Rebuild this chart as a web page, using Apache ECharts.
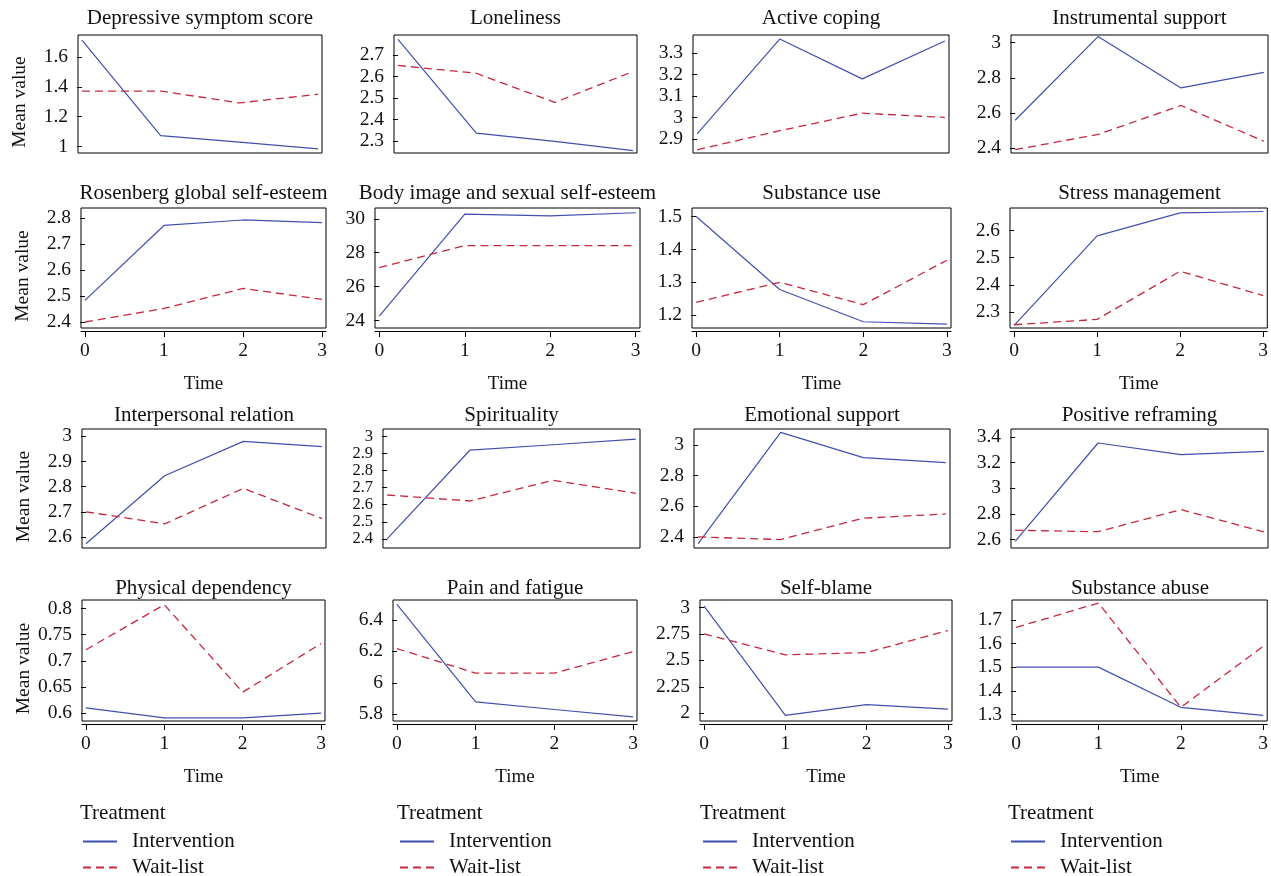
<!DOCTYPE html>
<html>
<head>
<meta charset="utf-8">
<script src="https://cdn.jsdelivr.net/npm/echarts@6/dist/echarts.min.js"></script>
<style>html,body{margin:0;padding:0;background:#fff}#c{width:1271px;height:876px}</style>
</head>
<body>
<div id="c"></div>
<script>
// ---------- data ----------
const times = [0, 1, 2, 3];
const panelTitles = [
  'Depressive symptom score', 'Loneliness', 'Active coping', 'Instrumental support',
  'Rosenberg global self-esteem', 'Body image and sexual self-esteem', 'Substance use', 'Stress management',
  'Interpersonal relation', 'Spirituality', 'Emotional support', 'Positive reframing',
  'Physical dependency', 'Pain and fatigue', 'Self-blame', 'Substance abuse'
];
const interventionValues = [
  [1.716, 1.073, 1.029, 0.984],
  [2.772, 2.338, 2.300, 2.257],
  [2.923, 3.366, 3.180, 3.357],
  [2.558, 3.035, 2.742, 2.831],
  [2.483, 2.771, 2.792, 2.782],
  [24.26, 30.28, 30.18, 30.36],
  [1.500, 1.278, 1.180, 1.173],
  [2.250, 2.581, 2.666, 2.671],
  [2.573, 2.843, 2.980, 2.959],
  [2.400, 2.920, 2.951, 2.984],
  [2.356, 3.081, 2.917, 2.884],
  [2.587, 3.353, 3.262, 3.288],
  [0.610, 0.591, 0.591, 0.600],
  [6.498, 5.878, 5.830, 5.783],
  [3.013, 1.980, 2.081, 2.039],
  [1.500, 1.500, 1.330, 1.296]
];
const waitlistValues = [
  [1.373, 1.373, 1.293, 1.351],
  [2.651, 2.615, 2.480, 2.623],
  [2.849, 2.938, 3.020, 3.000],
  [2.390, 2.477, 2.642, 2.438],
  [2.400, 2.452, 2.529, 2.487],
  [27.12, 28.42, 28.42, 28.42],
  [1.239, 1.300, 1.232, 1.367],
  [2.252, 2.272, 2.450, 2.360],
  [2.700, 2.652, 2.793, 2.673],
  [2.657, 2.622, 2.743, 2.667],
  [2.400, 2.383, 2.522, 2.550],
  [2.673, 2.662, 2.834, 2.660],
  [0.721, 0.807, 0.640, 0.733],
  [6.217, 6.061, 6.061, 6.198],
  [2.750, 2.552, 2.574, 2.782],
  [1.668, 1.771, 1.330, 1.588]
];
const yTickValues = [
  [1, 1.2, 1.4, 1.6],
  [2.3, 2.4, 2.5, 2.6, 2.7],
  [2.9, 3, 3.1, 3.2, 3.3],
  [2.4, 2.6, 2.8, 3],
  [2.4, 2.5, 2.6, 2.7, 2.8],
  [24, 26, 28, 30],
  [1.2, 1.3, 1.4, 1.5],
  [2.3, 2.4, 2.5, 2.6],
  [2.6, 2.7, 2.8, 2.9, 3],
  [2.4, 2.5, 2.6, 2.7, 2.8, 2.9, 3],
  [2.4, 2.6, 2.8, 3],
  [2.6, 2.8, 3, 3.2, 3.4],
  [0.6, 0.65, 0.7, 0.75, 0.8],
  [5.8, 6, 6.2, 6.4],
  [2, 2.25, 2.5, 2.75, 3],
  [1.3, 1.4, 1.5, 1.6, 1.7]
];
const seriesNames = ['Intervention', 'Wait-list'];
const legendTitle = 'Treatment';

// ---------- layout / style ----------
const yRange = [
  [0.956, 1.75], [2.246, 2.792], [2.834, 3.385], [2.371, 3.044],
  [2.377, 2.838], [23.56, 30.64], [1.161, 1.526], [2.24, 2.684],
  [2.556, 3.029], [2.347, 3.043], [2.328, 3.103], [2.535, 3.462],
  [0.585, 0.816], [5.757, 6.526], [1.926, 3.071], [1.272, 1.784]
];
const boxLR = [
  [78, 322], [394, 637], [693, 949], [1011, 1268],
  [81, 326], [375, 640], [692, 951], [1010, 1269],
  [82, 326], [383, 640], [694, 950], [1011, 1268],
  [82, 325], [393, 637], [700, 952], [1012, 1268]
];
const rowTB = [[35, 153], [208, 328], [429, 548], [600, 721]];
const titleY = [18, 193, 415, 588];
const legendX = [80, 397, 700, 1008];
const legendRowY = [842, 868];
const FONT = '"Liberation Serif", "DejaVu Serif", serif';
const BLUE = '#4150ad';
const RED = '#c4283f';

const fmt = v => String(+(+v).toFixed(2));

const grids = [], xAxes = [], yAxes = [], series = [], titles = [], legends = [];
for (let i = 0; i < 16; i++) {
  const row = Math.floor(i / 4), col = i % 4;
  const [l, r] = boxLR[i];
  const [t, b] = rowTB[row];
  grids.push({ left: l, top: t, width: r - l, height: b - t, show: true,
    borderColor: '#000', borderWidth: 1, backgroundColor: 'transparent', containLabel: false });
  const showX = (row === 1 || row === 3);
  const dense = yTickValues[i].length > 6;
  xAxes.push({
    type: 'value', gridIndex: i, min: -0.05, max: 3.05, offset: showX ? 3 : 0,
    splitLine: { show: false },
    axisLine: { show: showX, onZero: false, lineStyle: { color: '#000', width: 1 } },
    axisTick: { show: showX, customValues: times, length: 6, lineStyle: { color: '#000' } },
    axisLabel: { show: showX, customValues: times, margin: 10, fontFamily: FONT, fontSize: 19.5, color: '#111',
      formatter: fmt, hideOverlap: false, showMinLabel: true, showMaxLabel: true },
    name: showX ? 'Time' : '', nameLocation: 'middle', nameGap: 44,
    nameTextStyle: { fontFamily: FONT, fontSize: 19, color: '#111' }
  });
  yAxes.push({
    type: 'value', gridIndex: i, min: yRange[i][0], max: yRange[i][1],
    splitLine: { show: false },
    axisLine: { show: false },
    axisTick: { show: true, customValues: yTickValues[i], length: 5, lineStyle: { color: '#000' } },
    axisLabel: { show: true, customValues: yTickValues[i], margin: 10, fontFamily: FONT,
      fontSize: dense ? 16.5 : 19.5, lineHeight: dense ? 15 : 19.5,
      color: '#111', formatter: fmt, hideOverlap: false, showMinLabel: true, showMaxLabel: true },
    name: col === 0 ? 'Mean value' : '', nameLocation: 'middle', nameRotate: 90, nameGap: 48,
    nameTextStyle: { fontFamily: FONT, fontSize: 19.5, color: '#111', padding: [0, 16, 0, 0] }
  });
  series.push({
    name: seriesNames[0], type: 'line', xAxisIndex: i, yAxisIndex: i, symbol: 'none',
    lineStyle: { color: BLUE, width: 1.2, type: 'solid' }, itemStyle: { color: BLUE },
    data: times.map((x, k) => [x, interventionValues[i][k]])
  });
  series.push({
    name: seriesNames[1], type: 'line', xAxisIndex: i, yAxisIndex: i, symbol: 'none',
    lineStyle: { color: RED, width: 1.3, type: [8, 5] }, itemStyle: { color: RED },
    data: times.map((x, k) => [x, waitlistValues[i][k]])
  });
  titles.push({
    text: panelTitles[i], left: (l + r) / 2, top: titleY[row] - 10, textAlign: 'center',
    textStyle: { fontFamily: FONT, fontSize: 21, fontWeight: 'normal', color: '#111' }, padding: 0
  });
}
for (let k = 0; k < 4; k++) {
  titles.push({
    text: legendTitle, left: legendX[k], top: 803, padding: 0,
    textStyle: { fontFamily: FONT, fontSize: 21, fontWeight: 'normal', color: '#111' }
  });
  seriesNames.forEach((nm, j) => {
    legends.push({
      data: [nm], orient: 'vertical', left: legendX[k] + 2, top: legendRowY[j] - 11, padding: 0,
      itemWidth: 34, itemHeight: 20, selectedMode: false,
      itemStyle: { opacity: 0 },
      textStyle: { fontFamily: FONT, fontSize: 21, color: '#111', padding: [0, 0, 0, 10] }
    });
  });
}

const chart = echarts.init(document.getElementById('c'), null, { renderer: 'canvas' });
chart.setOption({
  animation: false,
  backgroundColor: '#fff',
  title: titles,
  legend: legends,
  grid: grids,
  xAxis: xAxes,
  yAxis: yAxes,
  series: series
});
</script>
</body>
</html>
